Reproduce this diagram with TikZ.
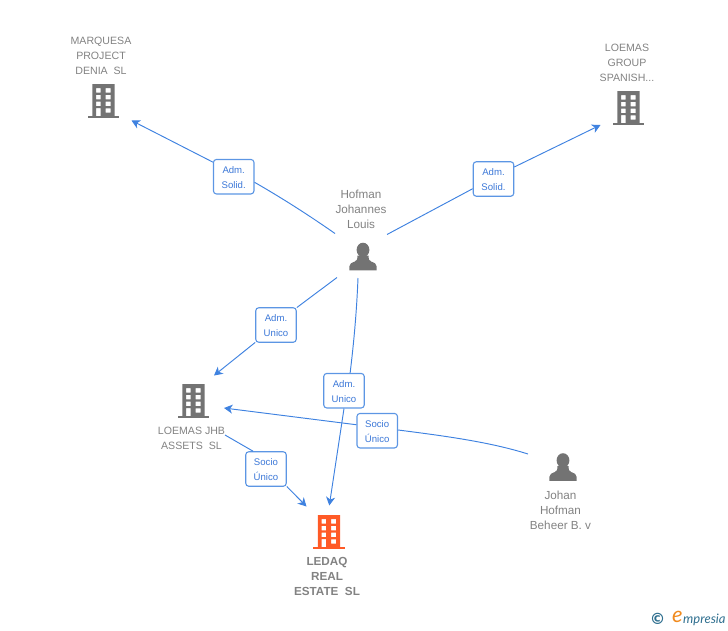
\documentclass[tikz,border=0pt]{standalone}
\usepackage{fontspec}
\setmainfont{Liberation Sans}
\newfontfamily\logofont{Lato}
\newfontfamily\copyfont{DejaVu Sans}
\usetikzlibrary{arrows.meta}
\definecolor{linkblue}{HTML}{3F82E0}
\definecolor{boxblue}{HTML}{5C96E4}
\definecolor{labelblue}{HTML}{3C78D8}
\definecolor{icongrey}{HTML}{737373}
\definecolor{textgrey}{HTML}{828282}
\definecolor{hotorange}{HTML}{FF5A26}
\definecolor{logoteal}{HTML}{2F6F8F}
\definecolor{logoorange}{HTML}{F08A1E}
\newcommand{\boxstrut}{\rule{0pt}{8.6pt}}
\tikzset{
  x=1pt,y=-1pt,
  linkline/.style={draw=linkblue,line width=0.95pt},
  linkarrow/.style={linkline,-{Stealth[length=8.5pt,width=9pt,inset=2.5pt]}},
  rolebox/.style={draw=boxblue,fill=white,line width=1.1pt,rounded corners=3pt,minimum width=40.5pt,minimum height=34.5pt,inner sep=0pt,align=center,text=labelblue,font=\fontsize{9.6}{15}\selectfont},
  caption/.style={text=textgrey,align=center,inner sep=0pt,font=\fontsize{10.6}{15}\selectfont},
  personcaption/.style={caption,font=\fontsize{11.7}{15}\selectfont},
  hotcaption/.style={caption,font=\fontsize{11.7}{15}\selectfont\bfseries},
  pics/building/.style={code={
    \fill[#1,even odd rule]
      (-11.2,15) -- (-11.2,-17) -- (11.2,-17) -- (11.2,15) -- cycle
      (-7.5,-13) rectangle (-2.8,-8.4)
      (2.2,-13) rectangle (7.2,-8.4)
      (-7.5,-6.2) rectangle (-2.8,-1.6)
      (2.2,-6.2) rectangle (7.2,-1.6)
      (-7.5,0.6) rectangle (-2.8,5)
      (2.2,0.6) rectangle (7.2,5)
      (-7.5,7) rectangle (-2.8,15)
      (2.2,7.4) rectangle (7.2,11.7);
    \fill[#1] (-15.8,14.8) rectangle (15.8,17.4);
  }},
  pics/person/.style={code={
    \fill[icongrey] (0,-6.6) ellipse[x radius=6.4,y radius=7.2];
    \fill[icongrey] (-13.7,13.8) -- (-13.7,10) .. controls (-13.7,7) and (-11,6) .. (-8.2,5)
      .. controls (-6,4.2) and (-5.6,3) .. (-5.6,-1) -- (5.6,-1)
      .. controls (5.6,3) and (6,4.2) .. (8.2,5)
      .. controls (11,6) and (13.7,7) .. (13.7,10) -- (13.7,13.8) -- cycle;
  }}
}
\begin{document}
\begin{tikzpicture}
\useasboundingbox (0,0) rectangle (728,630);
% captions
\node[caption] (marquesaText) at (101,56) {MARQUESA\\PROJECT\\DENIA\ \ SL};
\node[caption] (groupText) at (627,63) {LOEMAS\\GROUP\\SPANISH...};
\node[personcaption] (hofmanText) at (361,209.5) {Hofman\\Johannes\\Louis};
\node[caption] (jhbText) at (191.5,438) {LOEMAS JHB\\ASSETS\ \ SL};
\node[personcaption] (johanText) at (560.5,510.5) {Johan\\Hofman\\Beheer B. v};
\node[hotcaption] (ledaqText) at (327,576.5) {LEDAQ\\REAL\\ESTATE\ \ SL};
% icons
\pic at (103.5,101) {building=icongrey};
\pic at (628.5,108) {building=icongrey};
\pic at (193.5,401) {building=icongrey};
\pic at (329,532) {building=hotorange};
\pic at (363,256.5) {person};
\pic at (563,467) {person};
% role boxes
\node[rolebox] (solidA) at (233.7,176.7) {\boxstrut Adm.\\Solid.};
\node[rolebox] (solidB) at (493.5,179) {\boxstrut Adm.\\Solid.};
\node[rolebox] (unicoA) at (276,325) {\boxstrut Adm.\\Unico};
\node[rolebox] (unicoB) at (344,390.7) {\boxstrut Adm.\\Unico};
\node[rolebox] (socioA) at (377.2,430.7) {\boxstrut Socio\\Único};
\node[rolebox] (socioB) at (266,469) {\boxstrut Socio\\Único};
% connector ends
\coordinate (hofNW) at (335,233.5);
\coordinate (hofNE) at (387,234.5);
\coordinate (hofSW) at (337,277.5);
\coordinate (hofS) at (358,278);
\coordinate (johanW) at (528,454);
\coordinate (jhbE) at (225,435);
\coordinate (marquesaIn) at (131.5,120.5);
\coordinate (groupIn) at (600.5,125);
\coordinate (jhbTop) at (214,375.5);
\coordinate (jhbRight) at (224,408);
\coordinate (ledaqTop) at (329.3,505.5);
\coordinate (ledaqLeft) at (306.5,506.5);
% connectors
\draw[linkline] (hofNW) .. controls (310,216) and (282,198) .. (solidA.-15);
\draw[linkarrow] (solidA.145) -- (marquesaIn);
\draw[linkline] (hofNE) -- (solidB.205);
\draw[linkarrow] (solidB.30) -- (groupIn);
\draw[linkline] (hofSW) -- (unicoA.40);
\draw[linkarrow] (unicoA.220) -- (jhbTop);
\draw[linkline] (hofS) .. controls (356.5,315) and (353.5,345) .. (unicoB.71);
\draw[linkarrow] (unicoB.-90) -- (ledaqTop);
\draw[linkline] (johanW) .. controls (490,442) and (445,436) .. (socioA.2);
\draw[linkarrow] (socioA.164) -- (jhbRight);
\draw[linkline] (jhbE) -- (socioB.126);
\draw[linkarrow] (socioB.-40) -- (ledaqLeft);
% logo
\node[text=logoteal,inner sep=0pt,font=\copyfont\bfseries\fontsize{15.5}{16}\selectfont] (logoC) at (657.5,618.5) {©};
\node[text=logoorange,inner sep=0pt,font=\logofont\itshape\fontsize{22}{22}\selectfont] (logoE) at (677.5,617) {e};
\node[text=logoteal,inner sep=0pt,anchor=west,font=\logofont\itshape\fontsize{13}{13}\selectfont] (logoW) at (683,620) {mpresia};
\end{tikzpicture}
\end{document}
